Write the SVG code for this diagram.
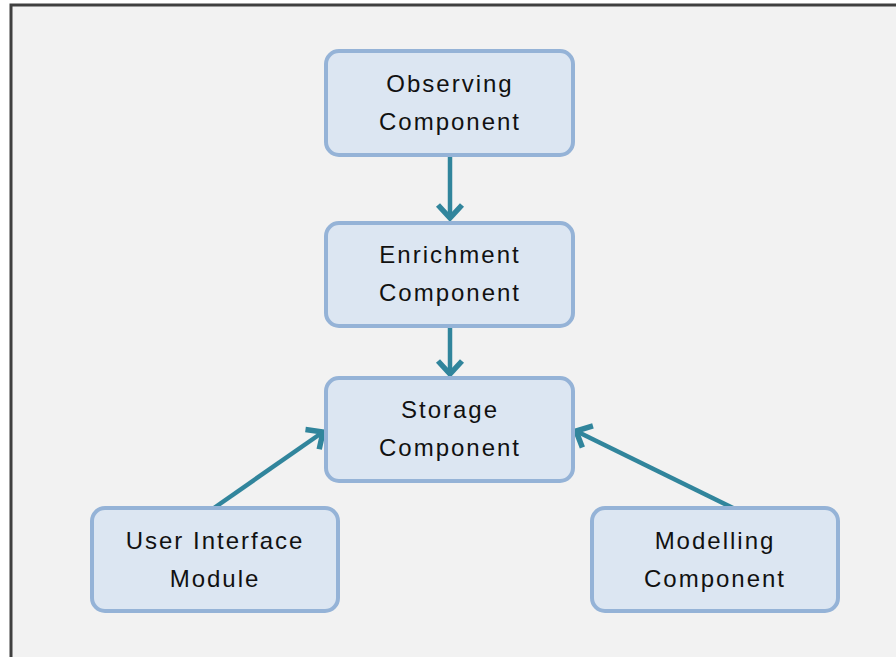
<svg xmlns="http://www.w3.org/2000/svg" width="896" height="657" viewBox="0 0 896 657">
<style>
.node rect{fill:#dce6f2;stroke:#95b3d7;stroke-width:4}
.node text{font-family:"Liberation Sans",Arial,sans-serif;font-size:24px;fill:#111;text-anchor:middle;letter-spacing:2px}
.edge{stroke:#31859c;stroke-width:4.5;fill:none}
</style>
<defs>
<marker id="arr" markerUnits="userSpaceOnUse" viewBox="-16 -16 20 32" refX="0" refY="0" markerWidth="20" markerHeight="32" orient="auto" overflow="visible">
<path d="M-13,-12 L0,0 L-13,12" fill="none" stroke="#31859c" stroke-width="5.5" stroke-linecap="butt" stroke-linejoin="miter"/>
</marker>
</defs>
<rect x="0" y="0" width="896" height="657" fill="#ffffff"/>
<rect x="11" y="5" width="900" height="670" fill="#f2f2f2" stroke="#404040" stroke-width="3"/>
<g id="connectors">
<line class="edge" x1="450" y1="155" x2="450" y2="218" marker-end="url(#arr)"/>
<line class="edge" x1="450" y1="326" x2="450" y2="374" marker-end="url(#arr)"/>
<line class="edge" x1="214" y1="508" x2="323" y2="432" marker-end="url(#arr)"/>
<line class="edge" x1="733" y1="508" x2="576" y2="431" marker-end="url(#arr)"/>
</g>
<g id="observing" class="node">
<rect x="326" y="51" width="247" height="104" rx="13"/>
<text x="450" y="92">Observing</text>
<text x="450" y="130">Component</text>
</g>
<g id="enrichment" class="node">
<rect x="326" y="223" width="247" height="103" rx="13"/>
<text x="450" y="263">Enrichment</text>
<text x="450" y="301">Component</text>
</g>
<g id="storage" class="node">
<rect x="326" y="378" width="247" height="103" rx="13"/>
<text x="450" y="418">Storage</text>
<text x="450" y="456">Component</text>
</g>
<g id="ui" class="node">
<rect x="92" y="508" width="246" height="103" rx="13"/>
<text x="215" y="549">User Interface</text>
<text x="215" y="587">Module</text>
</g>
<g id="modelling" class="node">
<rect x="592" y="508" width="246" height="103" rx="13"/>
<text x="715" y="549">Modelling</text>
<text x="715" y="587">Component</text>
</g>
</svg>
